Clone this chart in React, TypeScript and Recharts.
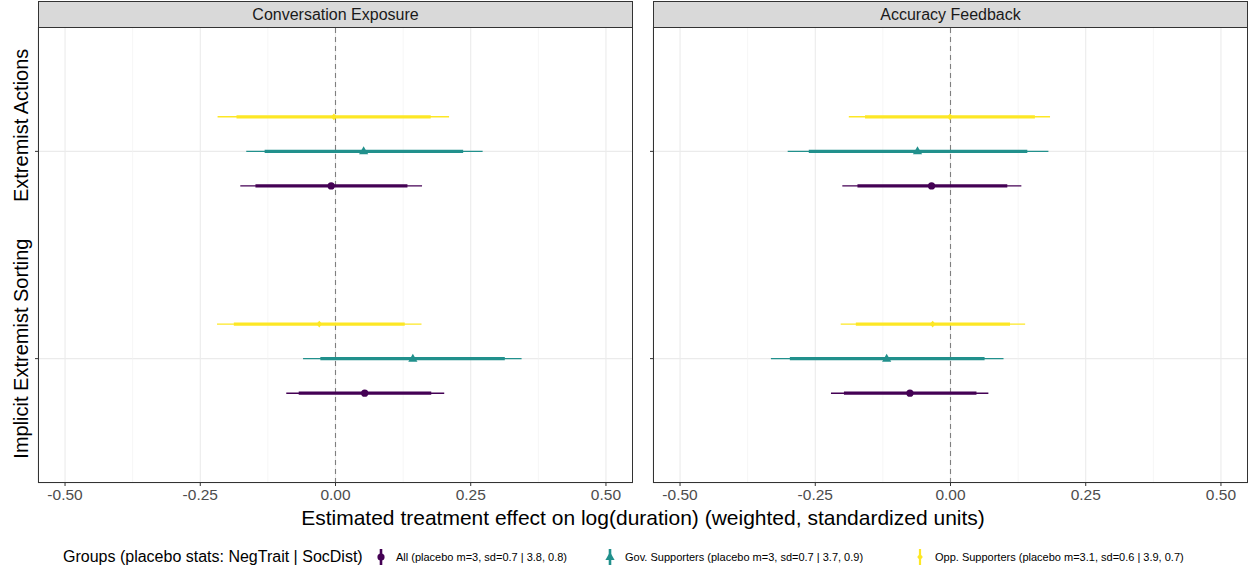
import React from 'react';
import { ScatterChart, Scatter, XAxis, YAxis, CartesianGrid, ReferenceLine, ErrorBar } from 'recharts';

const panels = ['Conversation Exposure', 'Accuracy Feedback'];
const outcomes = ['Extremist Actions', 'Implicit Extremist Sorting'];
const groups = [
  'All (placebo m=3, sd=0.7 | 3.8, 0.8)',
  'Gov. Supporters (placebo m=3, sd=0.7 | 3.7, 0.9)',
  'Opp. Supporters (placebo m=3.1, sd=0.6 | 3.9, 0.7)',
];
const legendTitle = 'Groups (placebo stats: NegTrait | SocDist)';
const xTitle = 'Estimated treatment effect on log(duration) (weighted, standardized units)';
const xTicks = [-0.5, -0.25, 0, 0.25, 0.5];
const xMinor = [-0.375, -0.125, 0.125, 0.375];

// indexed [panel][group][outcome]
const estimate = [
  [[-0.008, 0.054], [0.052, 0.143], [-0.003, -0.030]],
  [[-0.035, -0.075], [-0.061, -0.118], [-0.001, -0.033]],
];
const lo95 = [
  [[-0.176, -0.091], [-0.165, -0.060], [-0.218, -0.219]],
  [[-0.200, -0.221], [-0.301, -0.332], [-0.188, -0.203]],
];
const hi95 = [
  [[0.160, 0.201], [0.272, 0.344], [0.210, 0.159]],
  [[0.131, 0.070], [0.181, 0.098], [0.184, 0.138]],
];
const lo90 = [
  [[-0.148, -0.068], [-0.131, -0.028], [-0.183, -0.188]],
  [[-0.172, -0.197], [-0.262, -0.297], [-0.158, -0.175]],
];
const hi90 = [
  [[0.133, 0.177], [0.236, 0.313], [0.176, 0.128]],
  [[0.105, 0.048], [0.142, 0.063], [0.156, 0.110]],
];

const COLORS = ['#440154', '#21908C', '#FDE725'];
const DODGE = 0.5 / 3;
const FONT = '"Liberation Sans", Arial, Helvetica, sans-serif';

const PLOT_TOP = 27;
const PLOT_H = 456;
const PLOT_W = 595;
const AXIS_H = 30;
// the rotated outcome labels sit a little above their ticks in the original
const labelShift = [-26, -10];

const shapeFor = (gi: number) => (props: any) => {
  const { cx, cy } = props;
  const c = COLORS[gi];
  if (gi === 0) return <circle cx={cx} cy={cy} r={3.6} fill={c} />;
  if (gi === 1)
    return <path d={`M${cx},${cy - 5}L${cx + 4.6},${cy + 3}L${cx - 4.6},${cy + 3}Z`} fill={c} />;
  return <path d={`M${cx},${cy - 3.4}L${cx + 2.8},${cy}L${cx},${cy + 3.4}L${cx - 2.8},${cy}Z`} fill={c} />;
};

const OutcomeTick = (props: any) => {
  const { y, payload } = props;
  const idx = payload.value - 1;
  const cy = y + labelShift[idx];
  return (
    <text
      x={21}
      y={cy}
      transform={`rotate(-90, 21, ${cy})`}
      textAnchor="middle"
      dominantBaseline="central"
      fontSize={20}
      fill="#000"
      fontFamily={FONT}
    >
      {outcomes[idx]}
    </text>
  );
};

const EmptyTick = () => <g />;

function Panel({ p, left, yWidth }: { p: number; left: number; yWidth: number }) {
  const series = groups.map((_, gi) =>
    outcomes.map((_, oi) => {
      const est = estimate[p][gi][oi];
      return {
        x: est,
        y: oi + 1 + (1 - gi) * DODGE,
        e95: [est - lo95[p][gi][oi], hi95[p][gi][oi] - est],
        e90: [est - lo90[p][gi][oi], hi90[p][gi][oi] - est],
      };
    })
  );

  return (
    <>
      <div
        style={{
          position: 'absolute',
          left: left + yWidth,
          top: 1,
          width: PLOT_W,
          height: 27,
          boxSizing: 'border-box',
          background: '#d9d9d9',
          border: '1px solid #333',
          fontSize: 16,
          color: '#1a1a1a',
          display: 'flex',
          alignItems: 'center',
          justifyContent: 'center',
        }}
      >
        {panels[p]}
      </div>
      <div style={{ position: 'absolute', left, top: PLOT_TOP }}>
        <ScatterChart
          width={yWidth + PLOT_W}
          height={PLOT_H + AXIS_H}
          margin={{ top: 0, right: 0, bottom: 0, left: 0 }}
        >
          <CartesianGrid stroke="#ebebeb" strokeWidth={1.1} />
          {xMinor.map((v) => (
            <ReferenceLine key={v} x={v} stroke="#f2f2f2" strokeWidth={0.7} />
          ))}
          <XAxis
            type="number"
            dataKey="x"
            domain={[-0.55, 0.55]}
            allowDataOverflow
            ticks={xTicks}
            tickFormatter={(v: number) => v.toFixed(2)}
            height={AXIS_H}
            axisLine={false}
            tickLine={{ stroke: '#333' }}
            tickSize={3}
            tickMargin={3}
            tick={{ fill: '#4d4d4d', fontSize: 15.5, fontFamily: FONT }}
          />
          <YAxis
            type="number"
            dataKey="y"
            domain={[0.4, 2.6]}
            reversed
            allowDataOverflow
            ticks={[1, 2]}
            width={yWidth}
            axisLine={false}
            tickLine={{ stroke: '#333' }}
            tickSize={3}
            tick={p === 0 ? <OutcomeTick /> : <EmptyTick />}
          />
          <ReferenceLine x={0} stroke="#7f7f7f" strokeDasharray="5 4" strokeWidth={1.1} />
          {series.map((d, gi) => (
            <Scatter
              key={gi}
              data={d}
              fill={COLORS[gi]}
              shape={shapeFor(gi)}
              isAnimationActive={false}
            >
              <ErrorBar dataKey="e95" direction="x" width={0} stroke={COLORS[gi]} strokeWidth={1.4} />
              <ErrorBar dataKey="e90" direction="x" width={0} stroke={COLORS[gi]} strokeWidth={3.2} />
            </Scatter>
          ))}
        </ScatterChart>
      </div>
      <div
        style={{
          position: 'absolute',
          left: left + yWidth,
          top: PLOT_TOP,
          width: PLOT_W,
          height: PLOT_H,
          boxSizing: 'border-box',
          border: '1px solid #333',
          pointerEvents: 'none',
        }}
      />
    </>
  );
}

const LegendKey = ({ gi }: { gi: number }) => (
  <svg width={12} height={20} style={{ display: 'block' }}>
    <line x1={6} x2={6} y1={2} y2={18} stroke={COLORS[gi]} strokeWidth={gi === 2 ? 2.2 : 2.6} />
    {shapeFor(gi)({ cx: 6, cy: 10 })}
  </svg>
);

const legendPos = [381, 610, 920];

export default function App() {
  return (
    <div
      style={{
        position: 'absolute',
        left: 0,
        top: 0,
        width: 1249,
        height: 571,
        background: '#fff',
        fontFamily: FONT,
        overflow: 'hidden',
      }}
    >
      <Panel p={0} left={0} yWidth={38} />
      <Panel p={1} left={634} yWidth={19} />
      <div
        style={{
          position: 'absolute',
          left: 38,
          width: 1210,
          top: 505,
          textAlign: 'center',
          fontSize: 21,
          color: '#000',
          lineHeight: '26px',
        }}
      >
        {xTitle}
      </div>
      <div
        style={{
          position: 'absolute',
          left: 63,
          top: 547,
          fontSize: 16,
          lineHeight: '20px',
          color: '#000',
          whiteSpace: 'nowrap',
        }}
      >
        {legendTitle}
      </div>
      {groups.map((g, gi) => (
        <div
          key={g}
          style={{
            position: 'absolute',
            left: legendPos[gi] - 6,
            top: 547,
            display: 'flex',
            alignItems: 'center',
            whiteSpace: 'nowrap',
          }}
        >
          <LegendKey gi={gi} />
          <span style={{ marginLeft: 9, fontSize: 11, color: '#000' }}>{g}</span>
        </div>
      ))}
    </div>
  );
}
